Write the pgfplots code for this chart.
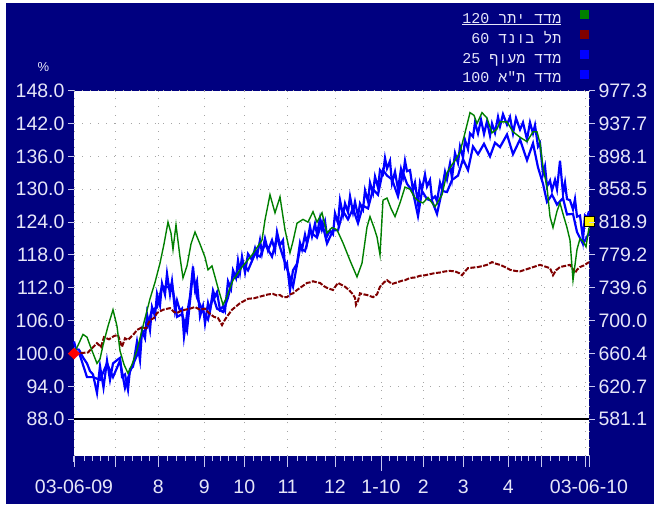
\documentclass[border=0pt]{standalone}
\usepackage{fontspec}
\setmainfont{Liberation Sans}
\newfontfamily\hebmono[Script=Hebrew]{Liberation Mono}
\TeXXeTstate=1
\usepackage{pgfplots}
\usepackage{pgfplotstable}
\pgfplotsset{compat=1.18}

\definecolor{navy}{RGB}{0,0,128}
\definecolor{lav}{RGB}{230,230,248}
\definecolor{tk}{RGB}{200,200,240}
\definecolor{ggreen}{RGB}{0,128,0}
\definecolor{dred}{RGB}{128,0,0}
\definecolor{bblue}{RGB}{0,0,255}
\definecolor{gridgray}{RGB}{165,165,165}

% x = position across the plot (0 = 03-06-09, 515 = 03-06-10), y = % of start
\pgfplotstableread{
x y
0 100
4 101.5
9 103.5
13 103
17 101
23 98.2
26 99
29 101.5
34 105
39 108
43 105
46 100.5
50 98
54 96.4
58 98
63 100.6
69 105
76 110
81 113
86 116.5
90 120
94 124
97 122
99 119
102 123.5
106 117.6
109 113.8
113 116
117 120
121 122.2
126 120
131 117.6
134 115.3
138 116
144 112
149 108.9
152 110
159 113.4
168 115.8
178 118
188 120.7
191 124.4
196 129
201 125.7
206 128.6
211 122.6
216 118.4
219 120.5
223 123.8
229 124.5
234 124
239 125.9
243 124
248 125.7
253 122
258 123
263 122.6
269 120.2
276 117
283 114
288 116.5
293 123.1
296 125
300 123
303 121.3
306 118
309 128
313 128.4
317 126.5
321 125
326 127.5
331 130.4
336 130
341 128.4
345 127.8
349 127.5
354 128.5
361 126.8
368 129
373 133
378 134.5
382 135.5
386 136.8
391 140.3
396 144
400 143.5
403 142
408 144
413 143
418 140.3
423 141
426 142.3
433 142.3
439 140.5
446 139.5
453 138.7
459 140.5
463 140.5
466 138.4
469 134
473 130.4
476 125
479 123
483 126
486 127.5
489 125.5
493 123
496 120.7
499 113.4
503 119
506 121
509 120.5
512 119.5
515 123
}\yeter

\pgfplotstableread{
x y
0 100
14 100.2
17 100.8
23 101.9
27 101.2
30 103
35 102.6
40 103.2
44 103.4
48 101.2
51 102.8
54 102.5
60 103.6
63 104.3
68 104.8
72 104.6
76 106.1
80 106.5
83 107.4
89 108
96 108.3
100 107.6
103 107.4
107 107.8
111 108
116 108.2
121 108.5
126 108
131 108.2
135 107.4
140 106.7
144 106.5
148 105.2
151 106.2
154 107
158 108
162 108.6
166 109.2
170 109.6
174 110
180 110.1
184 110.3
190 110.6
194 110.8
199 110.9
203 110.6
206 110.7
209 110.3
213 110.3
216 110.8
219 111
223 111.6
226 112
230 112.5
233 112.9
236 113
239 113.2
243 113
246 112.9
250 112.3
253 112
256 111.8
259 111.6
262 112.4
264 112.9
268 112.5
271 112.2
275 111.6
278 111
281 110.2
282 108.9
284 109.6
286 111
290 110.8
293 110.7
296 110.5
299 110.3
303 110.8
306 112.2
310 113
313 113.4
318 112.7
323 113
328 113.3
331 113.4
336 113.8
341 113.9
346 114.2
351 114.3
356 114.5
361 114.7
366 114.8
371 115
376 115.1
381 115
385 114.7
388 114.3
391 115
394 115.6
399 115.7
404 115.8
409 116
413 116.2
416 116.5
418 116.7
422 116.4
426 116.2
431 115.8
436 115.3
441 115.1
446 115
451 115.3
456 115.6
461 115.9
466 116.2
471 115.9
476 115.6
479 114.3
482 115.2
486 115.8
491 116
496 116.2
499 115.4
501 114.7
503 115.3
506 115.8
510 116.1
515 116.7
}\telbond

\pgfplotstableread{
x y
0 102.2
2 100.8
5 100.7
9 99.3
13 98.2
16 96.8
19 96.2
23 92.8
26 97.7
29.5 93.8
33 98.7
36 95.2
39 98.2
43 98.8
46 99.2
48 95.8
51 96.2
54 93.4
56 97.2
59 97.6
63 102.2
66 98.8
68 104.2
71 102.8
73 107.2
76 104.3
78 108.5
81 106.8
83 110.9
86 108.8
88 112.8
91 110.8
93 114.6
96 110.8
98 113.2
101 107.8
103 109.7
106 107.8
108 108.2
110 103.1
113 107.2
116 110.4
119 115.9
121 111.8
123 113.2
126 106.8
129 108.7
131 105.5
134 109.2
136 107.8
139 111.5
141 110.4
143 111.2
146 108.0
149 108.6
151 107.8
154 113.2
157 111.8
159 115.2
162 113.8
164 117.0
166 114.8
168 117.7
171 114.8
174 118.2
178 117.1
181 119.2
183 117.8
186 120.7
188 118.3
191 121.0
194 118.8
198 120.7
201 118.8
203 122.2
206 119.8
209 120.7
211 115.8
213 116.5
216 111.6
219 115.2
223 116.4
226 120.2
228 119.0
231 121.7
233 120.1
236 123.2
238 121.4
241 123.7
243 121.8
246 124.7
248 122.6
251 124.2
253 121.4
256 122.5
259 121.8
261 125.6
264 123.8
266 128.0
269 125.3
271 127.4
274 125.8
276 128.7
279 125.8
281 127.7
284 125.1
286 127.4
289 126.3
291 129.8
294 127.8
296 131.2
299 129.3
301 132.3
304 130.3
306 133.5
309 132.8
311 135.7
313 133.8
316 135.2
318 131.1
321 133.2
324 130.0
327 133.7
329 132.3
331 135.2
333 133.3
336 133.5
339 129.8
341 131.2
344 127.4
346 131.2
348 130.0
351 132.7
353 130.5
356 131.7
358 128.2
361 128.7
363 127.8
366 131.2
368 130.0
371 133.2
373 131.8
376 134.7
378 132.0
381 136.6
384 134.8
386 137.8
389 135.8
391 139.0
394 137.3
396 140.2
399 139.6
401 142.2
404 140.2
407 142.7
410 140.1
413 142.4
416 139.8
418 142.0
421 140.3
424 143.2
426 141.5
429 143.7
433 141.8
436 143.2
439 140.2
442 143.0
446 140.9
449 142.2
453 139.1
456 142.2
459 140.2
461 141.7
464 137.8
466 138.4
469 132.8
471 134.2
473 130.5
476 131.6
478 129.8
481 131.7
483 130.0
486 135.2
489 129.2
491 131.2
493 128.2
496 128.0
499 126.3
501 128.2
503 125.0
506 125.2
509 120.8
511 125.2
513 124.8
515 126.0
}\maof

\pgfplotstableread{
x y
0 100
5 100.2
13 95.7
19 95.7
26 95.2
33 98.2
39 95.7
46 98.7
51 93.7
56 96.7
63 99.7
68 103.7
73 104.7
78 108.0
83 108.4
88 112.3
93 112.1
98 112.7
103 106.7
108 107.2
113 104.2
119 114.9
123 110.2
129 107.7
134 106.2
139 110.5
143 108.2
149 107.6
154 110.2
159 114.2
164 114.0
168 116.7
174 115.2
181 118.2
186 117.7
191 120.0
198 117.7
203 121.2
209 117.7
213 115.5
219 112.2
226 119.2
231 118.7
236 122.2
243 121.2
248 124.0
253 120.1
259 122.5
264 122.5
269 126.0
274 124.5
279 126.5
284 123.8
289 127.0
294 126.5
299 130.0
304 129.0
309 133.5
313 132.5
318 131.8
324 128.7
329 133.0
333 131.0
339 129.5
344 125.1
348 129.7
353 128.2
358 127.9
363 125.5
368 129.7
373 129.5
378 131.7
384 132.5
389 135.5
394 133.5
399 137.8
404 136.4
410 138.3
416 136.0
421 138.5
426 137.7
433 140.0
439 136.4
446 139.1
453 135.3
459 138.4
464 134.0
469 131.0
473 127.7
478 129.0
483 127.2
489 128.4
493 125.4
499 125.5
503 122.2
509 120.0
515 122.0
}\tameah

\pgfplotsset{
  base/.style={
    at={(74pt,48.3pt)}, anchor=south west,
    scale only axis, width=515pt, height=365pt,
    xmin=0, xmax=515, ymin=81.35, ymax=148,
    axis line style={draw=none},
    tick align=outside,
    tick style={draw=tk, line width=1pt},
    ticklabel style={font=\fontsize{19.5}{22}\selectfont, text=lav},
    /pgf/number format/assume math mode=true,
  },
}

\begin{document}
\begin{tikzpicture}
\fill[white] (0pt,0pt) rectangle (654pt,504pt);
\fill[navy] (6pt,0pt) rectangle (654pt,501pt);
\node[text=lav, font=\fontsize{13}{15}\selectfont] at (43.5pt,437pt) {\%};

% main axis: data, grid, left scale, legend
\begin{axis}[base,
    clip=false,
    axis background/.style={fill=white},
    xtick={0,41.7,84.3,130.3,170.3,213.7,261,307,349.3,389.3,434.3,467.7,511.7,515},
    xticklabels={},
    xtick pos=bottom,
    ytick={88,94,100,106,112,118,124,130,136,142,148},
    yticklabels={88.0,94.0,100.0,106.0,112.0,118.0,124.0,130.0,136.0,142.0,148.0},
    ytick pos=left,
    major tick length=6pt,
    grid=major,
    major grid style={draw=gridgray, line width=0.9pt, dash pattern=on 0.9pt off 7.2pt},
    legend style={at={(1,1)}, anchor=south east, yshift=5pt,
        draw=none, fill=none, text=lav,
        font=\fontsize{15}{17}\selectfont\hebmono,
        row sep=4pt, column sep=18pt, inner sep=0pt,
        nodes={inner sep=1pt}},
    legend cell align=right,
    legend plot pos=right,
    legend image code/.code={\fill[#1] (0pt,0.5pt) rectangle (8pt,8.5pt);},
]
\addlegendimage{ggreen}
\addlegendentry{\underline{\hbox{\beginR מדד יתר \beginL120\endL\endR}}}
\addlegendimage{dred}
\addlegendentry{\beginR תל בונד \beginL60\endL\endR}
\addlegendimage{bblue}
\addlegendentry{\beginR מדד מעוף \beginL25\endL\endR}
\addlegendimage{bblue}
\addlegendentry{\beginR מדד ת"א \beginL100\endL\endR}

\addplot[bblue, line width=2.2pt, forget plot] table {\tameah};
\addplot[bblue, line width=2.2pt, forget plot] table {\maof};
\addplot[dred, line width=2pt, dash pattern=on 5pt off 1.5pt, forget plot] table {\telbond};
\addplot[ggreen, line width=1.4pt, forget plot] table {\yeter};
\addplot[black, line width=2pt, forget plot] coordinates {(0,88) (515,88)};
\addplot[only marks, mark=diamond*, mark size=5.5pt, color=red,
    mark options={xscale=1.4}, forget plot] coordinates {(0,100)};
\addplot[only marks, mark=square*, mark size=5pt,
    mark options={fill=yellow, draw=black, line width=1pt}, forget plot] coordinates {(515,124.2)};
\end{axis}

% bottom date scale
\begin{axis}[base,
    ytick=\empty,
    xtick pos=bottom,
    xtick={0,41.7,84.3,130.3,170.3,213.7,261,307,349.3,389.3,434.3,467.7,511.7,515},
    xticklabels={03-06-09,,8,9,10,11,12,1-10,2,3,4,,,03-06-10},
    xticklabel style={yshift=-10pt},
    minor xtick={10,18,26,34,50.2,58.7,67.3,75.8,93.5,102.7,111.9,121.1,
      138.3,146.3,154.3,162.3,179,187.7,196.3,205,223.2,232.6,242.1,251.5,
      270.2,279.4,288.6,297.8,315.5,323.9,332.4,340.8,357.3,365.3,373.3,381.3,
      398.3,407.3,416.3,425.3,441,447.7,454.4,461,476.5,485.3,494.1,502.9},
    major tick length=11pt, minor tick length=5pt,
]
\end{axis}

% longer tick at the turn of the year
\begin{axis}[base,
    ytick=\empty, xtick pos=bottom,
    xtick={307}, xticklabels={},
    major tick length=15pt,
]
\end{axis}

% right scale
\begin{axis}[base,
    xtick=\empty,
    ytick pos=right,
    ytick={88,94,100,106,112,118,124,130,136,142,148},
    yticklabels={581.1,620.7,660.4,700.0,739.6,779.2,818.9,858.5,898.1,937.7,977.3},
    major tick length=6pt,
]
\end{axis}
\end{tikzpicture}
\end{document}
